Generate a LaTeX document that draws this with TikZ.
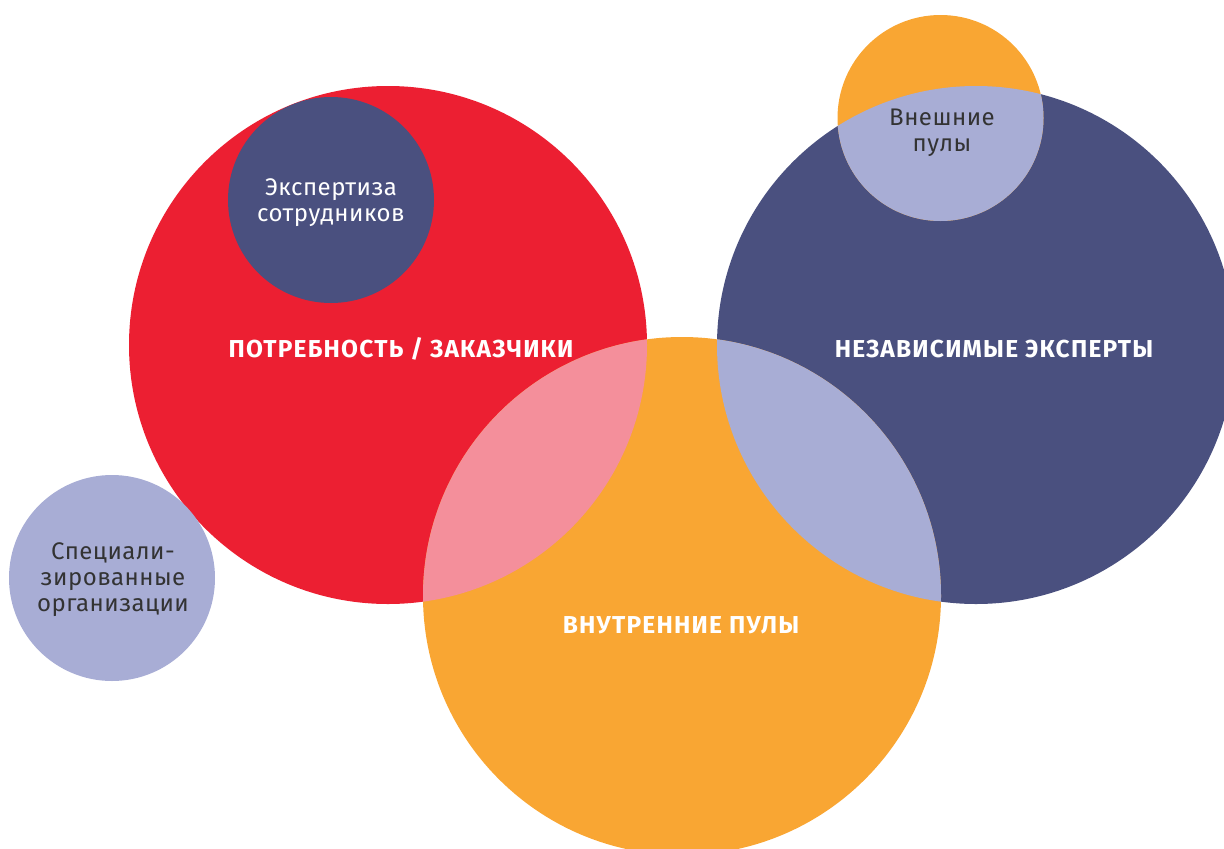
\documentclass[tikz,border=0pt]{standalone}
\usepackage{fontspec}
\setmainfont{Fira Sans}
\newfontfamily\firawide{Fira Sans}[LetterSpace=5]
\newfontfamily\firathin{Fira Sans}[LetterSpace=2]
\definecolor{cred}{HTML}{EC1F32}
\definecolor{cnavy}{HTML}{4A507F}
\definecolor{corange}{HTML}{F9A633}
\definecolor{clilac}{HTML}{A8ADD5}
\definecolor{cpink}{HTML}{F48F9B}
\definecolor{ctext}{HTML}{333333}
\tikzset{
  biglabel/.style={text=white, inner sep=0pt, font=\firawide\fontsize{24.5}{25}\selectfont\bfseries},
  smalllabel/.style={inner sep=0pt, align=center, font=\firathin\fontsize{24}{26}\selectfont}
}
\begin{document}
\begin{tikzpicture}[x=1pt,y=-1pt]
\useasboundingbox (0,0) rectangle (1224,849);
% big circles
\fill[cred] (388,345) circle [radius=259pt];
\fill[cnavy] (976,345) circle [radius=259pt];
\fill[corange] (682,596) circle [radius=259pt];
% lenses
\begin{scope}
  \clip (388,345) circle [radius=259pt];
  \fill[cpink] (682,596) circle [radius=259pt];
\end{scope}
\begin{scope}
  \clip (976,345) circle [radius=259pt];
  \fill[clilac] (682,596) circle [radius=259pt];
\end{scope}
% small circles
\fill[cnavy] (331,200) circle [radius=103pt];
\fill[clilac] (112,578) circle [radius=103pt];
\fill[corange] (940.5,118) circle [radius=103pt];
\begin{scope}
  \clip (976,345) circle [radius=259pt];
  \fill[clilac] (940.5,118) circle [radius=103pt];
\end{scope}
% labels
\node[biglabel, anchor=base] (need) at (401,357) {ПОТРЕБНОСТЬ / ЗАКАЗЧИКИ};
\node[biglabel, anchor=base] (indep) at (994,357) {НЕЗАВИСИМЫЕ ЭКСПЕРТЫ};
\node[biglabel, anchor=base] (inner) at (681,633) {ВНУТРЕННИЕ ПУЛЫ};
\node[smalllabel, text=white] (staff) at (331,203) {Экспертиза\\сотрудников};
\node[smalllabel, text=ctext] (orgs) at (113,580) {Специали-\\зированные\\организации};
\node[smalllabel, text=ctext] (ext) at (942,133) {Внешние\\пулы};
\end{tikzpicture}
\end{document}
